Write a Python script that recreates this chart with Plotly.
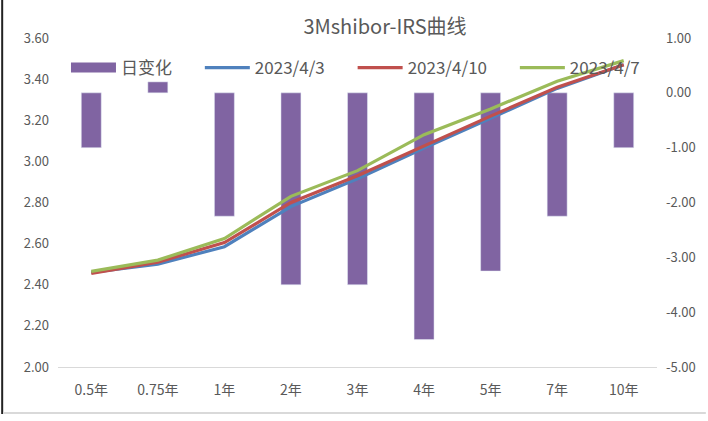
import plotly.graph_objects as go

categories = ["0.5年", "0.75年", "1年", "2年", "3年", "4年", "5年", "7年", "10年"]
daily_change = [-1.0, 0.2, -2.25, -3.5, -3.5, -4.5, -3.25, -2.25, -1.0]
s_0403 = [2.46, 2.50, 2.585, 2.78, 2.915, 3.065, 3.21, 3.355, 3.47]
s_0410 = [2.455, 2.51, 2.605, 2.80, 2.93, 3.075, 3.22, 3.36, 3.47]
s_0407 = [2.465, 2.52, 2.625, 2.83, 2.955, 3.13, 3.255, 3.39, 3.49]
right_ticks = [1, 0, -1, -2, -3, -4, -5]
right_labels = ["1.00", "0.00", "-1.00", "-2.00", "-3.00", "-4.00", "-5.00"]

W, H = 708, 421
L, R, T, B = 58, 49, 38, 54
pw, ph = W - L - R, H - T - B

def px(x):
    return (x - L) / pw

def py(y):
    return 1 - (y - T) / ph

font_family = "Noto Sans CJK SC, Noto Sans, sans-serif"
gray = "#595959"
purple = "#8064A2"
pad = "\u00a0" * 6

fig = go.Figure()
fig.add_trace(go.Bar(x=categories, y=daily_change, name="日变化", marker_color=purple,
                     width=0.3, yaxis="y", showlegend=False))
fig.add_trace(go.Scatter(x=[None], y=[None], name="日变化" + pad, mode="lines",
                         line=dict(color=purple, width=10), yaxis="y"))
fig.add_trace(go.Scatter(x=categories, y=s_0403, name="2023/4/3" + pad, mode="lines",
                         line=dict(color="#4F81BD", width=3.2), yaxis="y2"))
fig.add_trace(go.Scatter(x=categories, y=s_0410, name="2023/4/10" + pad, mode="lines",
                         line=dict(color="#C0504D", width=3.2), yaxis="y2"))
fig.add_trace(go.Scatter(x=categories, y=s_0407, name="2023/4/7", mode="lines",
                         line=dict(color="#9BBB59", width=3.2), yaxis="y2"))

fig.update_layout(
    width=W, height=H,
    margin=dict(l=L, r=R, t=T, b=B),
    paper_bgcolor="white", plot_bgcolor="white",
    font=dict(family=font_family, color=gray, size=13),
    title=dict(text="3Mshibor-IRS曲线", x=385 / W, xanchor="center",
               y=1 - 27 / H, yanchor="middle",
               font=dict(size=20, color=gray, family=font_family)),
    showlegend=True,
    legend=dict(orientation="h", x=px(66), y=py(68), xanchor="left", yanchor="middle",
                bgcolor="rgba(0,0,0,0)", font=dict(size=17, color=gray),
                itemwidth=45, traceorder="normal"),
    xaxis=dict(showgrid=False, showline=True, linecolor="#D9D9D9", linewidth=1,
               ticks="", tickfont=dict(size=14, color=gray), ticklabelstandoff=10),
    yaxis=dict(side="right", range=[-5, 1], tickvals=right_ticks, ticktext=right_labels,
               showgrid=False, zeroline=False, showline=False,
               tickfont=dict(size=13, color=gray), ticklabelstandoff=8),
    yaxis2=dict(side="left", overlaying="y", range=[2, 3.6], dtick=0.2, tickformat=".2f",
                showgrid=False, zeroline=False, showline=False,
                tickfont=dict(size=13, color=gray), ticklabelstandoff=8),
    shapes=[
        dict(type="line", xref="paper", yref="paper", x0=px(2), x1=px(2), y0=py(0), y1=py(414),
             line=dict(color="#222222", width=2)),
        dict(type="line", xref="paper", yref="paper", x0=px(3), x1=px(708), y0=py(413), y1=py(413),
             line=dict(color="#D9D9D9", width=2)),
    ],
)

fig.write_html("out.html", config={"displayModeBar": False},
               post_script="document.body.style.margin='0';")
